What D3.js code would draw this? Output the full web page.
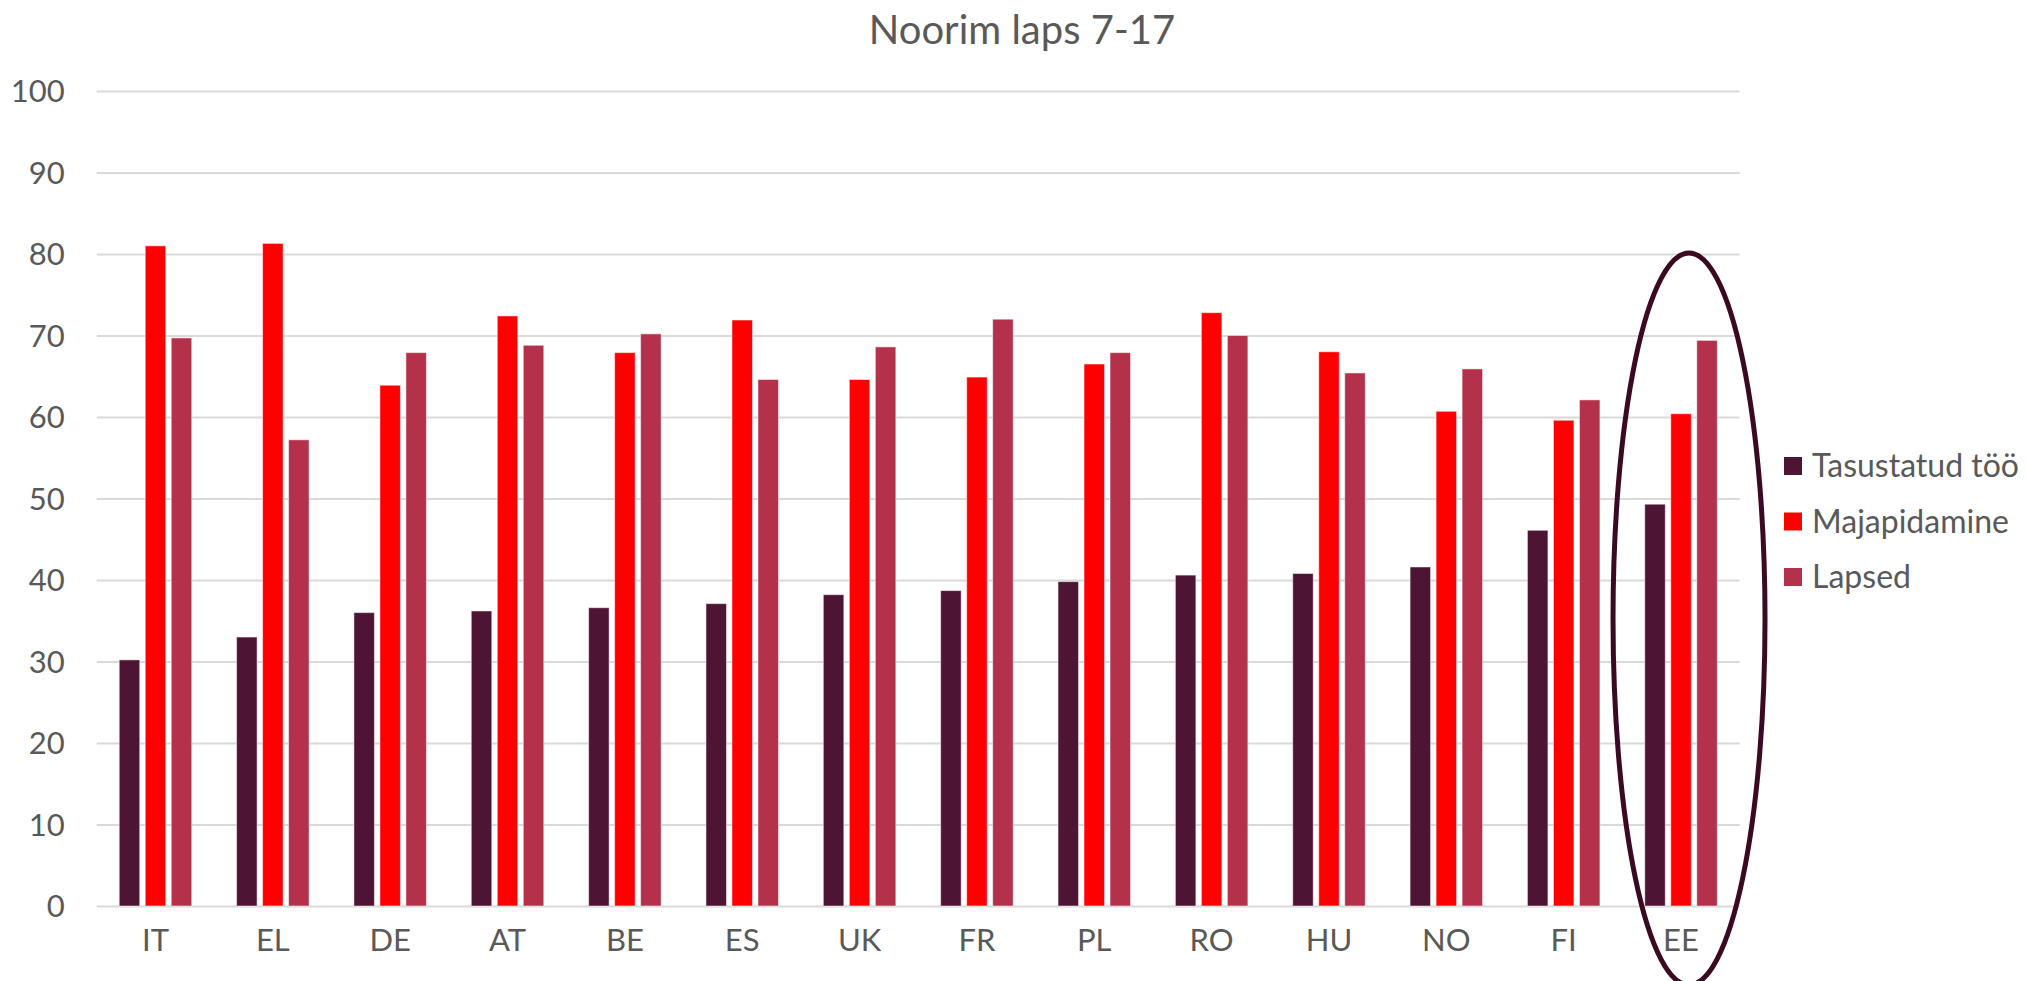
<!DOCTYPE html>
<html>
<head>
<meta charset="utf-8">
<script src="https://cdn.jsdelivr.net/npm/d3@7"></script>
<style>
  html, body { margin: 0; padding: 0; background: #ffffff; }
  svg { display: block; }
</style>
</head>
<body>
<svg id="chart" width="2026" height="981"></svg>
<script>
const title = "Noorim laps 7-17";
const categories = ["IT","EL","DE","AT","BE","ES","UK","FR","PL","RO","HU","NO","FI","EE"];
const seriesNames = ["Tasustatud töö","Majapidamine","Lapsed"];
const tasustatud = [30.2,33.0,36.0,36.2,36.6,37.1,38.2,38.7,39.8,40.6,40.8,41.6,46.1,49.3];
const majapidamine = [81.0,81.3,63.9,72.4,67.9,71.9,64.6,64.9,66.5,72.8,68.0,60.7,59.6,60.4];
const lapsed = [69.7,57.2,67.9,68.8,70.2,64.6,68.6,72.0,67.9,70.0,65.4,65.9,62.1,69.4];
const yTicks = [0,10,20,30,40,50,60,70,80,90,100];
const colors = ["#4e1433","#ff0000","#b3314b"];
const highlighted = "EE";

(function () {
const seriesValues = [tasustatud, majapidamine, lapsed];
const svg = d3.select("#chart");
const font = "Lato, 'Open Sans', sans-serif";
const textColor = "#595959";

const plotLeft = 96.8, plotRight = 1739.7, plotTop = 91, plotBottom = 906;

const y = d3.scaleLinear().domain([0,100]).range([plotBottom, plotTop]);
const x0 = d3.scaleBand().domain(categories).range([plotLeft, plotRight]).paddingInner(0).paddingOuter(0);
const groupW = 72.5;
const x1 = d3.scaleBand().domain(seriesNames).range([0, groupW]).paddingInner(0.2115).paddingOuter(0);
const groupOffset = (x0.bandwidth() - groupW) / 2;

// gridlines + y labels
const yAxis = d3.axisLeft(y).tickValues(yTicks).tickSize(-(plotRight-plotLeft)).tickFormat(d3.format("d")).tickPadding(32);
const gAxis = svg.append("g").attr("transform", `translate(${plotLeft},0)`).call(yAxis);
gAxis.select(".domain").remove();
gAxis.selectAll(".tick line").attr("stroke", "#d9d9d9").attr("stroke-width", 2);
gAxis.selectAll(".tick text")
  .attr("fill", textColor).attr("font-family", font).attr("font-size", 31)
  .attr("dy", "0.35em");

// bars
const groups = svg.append("g").selectAll("g")
  .data(categories).join("g")
  .attr("transform", c => `translate(${x0(c) + groupOffset},0)`);

groups.selectAll("rect")
  .data((c, i) => seriesNames.map((s, j) => ({s, j, v: seriesValues[j][i]})))
  .join("rect")
  .attr("x", d => x1(d.s))
  .attr("width", x1.bandwidth())
  .attr("y", d => y(d.v))
  .attr("height", d => y(0) - y(d.v))
  .attr("fill", d => colors[d.j])
  .attr("stroke", "#ffffff").attr("stroke-opacity", 0.5).attr("stroke-width", 1);

// x axis labels
const xAxis = d3.axisBottom(x0).tickSize(0).tickPadding(34);
const gx = svg.append("g").attr("transform", `translate(0,${plotBottom})`).call(xAxis);
gx.select(".domain").remove();
gx.selectAll(".tick text")
  .attr("fill", textColor).attr("font-family", font).attr("font-size", 31)
  .attr("dy", "0.35em");

// title
svg.append("text")
  .attr("x", 1022).attr("y", 44)
  .attr("text-anchor", "middle")
  .attr("fill", textColor).attr("font-family", font).attr("font-size", 40)
  .text(title);

// highlight ellipse (hand-drawn annotation around the EE group)
const cx = x0(highlighted) + x0.bandwidth() / 2 + 8;
svg.append("ellipse")
  .attr("cx", cx).attr("cy", (y(80) - 1 + 985) / 2)
  .attr("rx", 76).attr("ry", (985 - y(80) + 1) / 2)
  .attr("fill", "none").attr("stroke", "#3b0a22").attr("stroke-width", 5);

// legend
const legend = svg.append("g").selectAll("g")
  .data(seriesNames).join("g")
  .attr("transform", (d, i) => `translate(1784,${466 + i * 55.5})`);
legend.append("rect")
  .attr("x", 0).attr("y", -9).attr("width", 18).attr("height", 18)
  .attr("fill", (d, i) => colors[i]);
legend.append("text")
  .attr("x", 28).attr("y", 0).attr("dy", "0.35em")
  .attr("fill", textColor).attr("font-family", font).attr("font-size", 32)
  .text(d => d);
})();
</script>
</body>
</html>
